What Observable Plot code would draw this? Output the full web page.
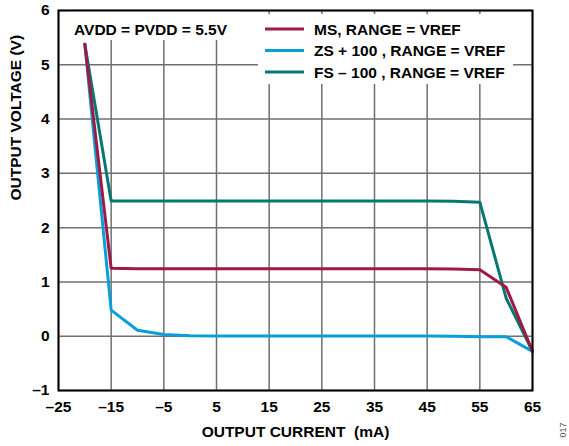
<!DOCTYPE html>
<html>
<head>
<meta charset="utf-8">
<script src="https://cdn.jsdelivr.net/npm/d3@7"></script>
<script src="https://cdn.jsdelivr.net/npm/@observablehq/plot@0.6"></script>
<style>
  body { margin: 0; background: #fff; }
  svg { display: block; }
</style>
</head>
<body>
<div id="chart"></div>
<script>
// Output current sweep (mA)
const current = [-20, -15, -10, -5, 0, 5, 10, 15, 20, 25, 30, 35, 40, 45, 50, 55, 60, 65];

// Output voltage (V) for each code setting
const msVoltage = [5.38, 1.25, 1.245, 1.245, 1.245, 1.245, 1.245, 1.245, 1.245, 1.245, 1.245, 1.245, 1.245, 1.245, 1.24, 1.225, 0.90, -0.28];
const zsVoltage = [5.38, 0.48, 0.11, 0.03, 0.01, 0.005, 0.005, 0.005, 0.005, 0.005, 0.005, 0.005, 0.005, 0.005, 0.0, -0.01, -0.01, -0.28];
const fsVoltage = [5.38, 2.49, 2.49, 2.49, 2.49, 2.49, 2.49, 2.49, 2.49, 2.49, 2.49, 2.49, 2.49, 2.49, 2.485, 2.47, 0.70, -0.28];

const seriesNames = ["MS, RANGE = VREF", "ZS + 100 , RANGE = VREF", "FS \u2013 100 , RANGE = VREF"];
const seriesColors = ["#9e1a45", "#0a9fd8", "#06786f"];

const xTicks = [-25, -15, -5, 5, 15, 25, 35, 45, 55, 65];
const yTicks = [-1, 0, 1, 2, 3, 4, 5, 6];

const xLabel = "OUTPUT CURRENT  (mA)";
const yLabel = "OUTPUT VOLTAGE (V)";
const note = "AVDD = PVDD = 5.5V";
const figureId = "017";

const seriesValues = [msVoltage, zsVoltage, fsVoltage];
// FS drawn first, MS last (on top)
const drawOrder = [2, 1, 0];
const rows = drawOrder.flatMap(k =>
  current.map((c, i) => ({series: seriesNames[k], current: c, voltage: seriesValues[k][i]}))
);

const dashFormat = d => (d < 0 ? "\u2013" + Math.abs(d) : String(d));
const FONT = 15.5;

const chart = Plot.plot({
  width: 569,
  height: 446,
  marginLeft: 58,
  marginRight: 37,
  marginTop: 10,
  marginBottom: 56,
  style: {
    fontFamily: "'Liberation Sans', Arial, Helvetica, sans-serif",
    fontSize: FONT + "px",
    fontWeight: "bold",
    color: "#000",
    background: "#fff",
    overflow: "visible"
  },
  x: {domain: [-25, 65]},
  y: {domain: [-1, 6]},
  color: {domain: seriesNames, range: seriesColors},
  marks: [
    Plot.gridX(xTicks, {stroke: "#707070", strokeOpacity: 1, strokeWidth: 1.5}),
    Plot.gridY(yTicks, {stroke: "#707070", strokeOpacity: 1, strokeWidth: 1.5}),
    Plot.line(rows, {x: "current", y: "voltage", z: "series", stroke: "series", strokeWidth: 3}),
    Plot.axisX(xTicks, {tickSize: 0, tickPadding: 10, tickFormat: dashFormat, label: null, fontSize: FONT}),
    Plot.axisY(yTicks, {tickSize: 0, tickPadding: 9, tickFormat: dashFormat, label: null, fontSize: FONT}),
    Plot.frame({stroke: "#000", strokeWidth: 2}),
    Plot.text([xLabel], {frameAnchor: "bottom", dy: 46, fontSize: FONT}),
    Plot.text([yLabel], {frameAnchor: "left", dx: -42, rotate: -90, fontSize: FONT})
  ]
});

document.getElementById("chart").append(chart);

// Legend and supply note sit on white panels above the grid, below the curves
const NS = "http://www.w3.org/2000/svg";
const lineGroup = chart.querySelector('g[aria-label="line"]');
const panels = document.createElementNS(NS, "g");
chart.insertBefore(panels, lineGroup);
d3.select(panels).append("rect").attr("x", 68).attr("y", 11).attr("width", 172).attr("height", 29).attr("fill", "#fff");
d3.select(panels).append("rect").attr("x", 258).attr("y", 14).attr("width", 255).attr("height", 70).attr("fill", "#fff");

const svg = d3.select(chart);
const legend = svg.append("g").attr("text-anchor", "start");
seriesNames.forEach((name, i) => {
  const y = 29 + i * 21.5;
  legend.append("line")
    .attr("x1", 265).attr("x2", 304).attr("y1", y).attr("y2", y)
    .attr("stroke", seriesColors[i]).attr("stroke-width", 3);
  legend.append("text")
    .attr("x", 314).attr("y", y).attr("dy", "0.36em")
    .attr("font-size", FONT).attr("font-weight", "bold").attr("fill", "#000")
    .text(name);
});

svg.append("text")
  .attr("x", 74).attr("y", 29).attr("dy", "0.36em").attr("text-anchor", "start")
  .attr("font-size", FONT).attr("font-weight", "bold").attr("fill", "#000")
  .text(note);

svg.append("text")
  .attr("transform", "translate(563,430) rotate(-90)")
  .attr("text-anchor", "middle").attr("dy", "0.36em")
  .attr("font-size", 9).attr("font-weight", "normal").attr("fill", "#555")
  .text(figureId);
</script>
</body>
</html>
